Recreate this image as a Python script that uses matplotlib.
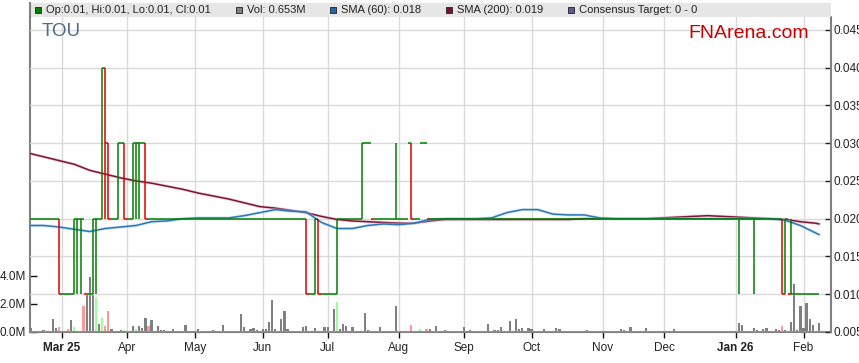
import matplotlib
matplotlib.use('Agg')
import matplotlib.pyplot as plt
from matplotlib.ticker import MultipleLocator, FormatStrFormatter
import numpy as np
import pandas as pd

plt.rcParams['font.family'] = ['Liberation Sans', 'DejaVu Sans']

W, H = 859, 363

# one slot per weekday
days = pd.bdate_range('2025-02-14', '2026-02-09')

# daily volume (millions), one value per slot
volume_m = [
    0, 0.26, 0, 0, 0, 0.14, 0.10, 0, 0.93, 0.31,
    0.36, 0, 0.10, 0.24, 0.86, 0.36, 0.10, 0.10, 1.88, 2.7,
    3.9, 2.8, 2.5, 0.57, 1.0, 0.43, 1.5, 0.21, 0, 0.10,
    0.14, 0.17, 0, 0, 0.43, 0.24, 0.43, 0.26, 1.0, 0.43,
    0.86, 0, 0.43, 0.17, 0.17, 0, 0, 0.21, 0, 0.10,
    0, 0.5, 0.10, 0, 0, 0.21, 0.10, 0, 0, 0,
    0.14, 0, 0.10, 0.5, 0, 0.10, 0.10, 0, 0, 1.29,
    0.36, 0, 0.21, 0.29, 0.14, 0, 0.21, 0.19, 0.71, 2.3,
    0.19, 0, 0.93, 1.5, 0.24, 0, 0.10, 0, 0, 0.36,
    0.43, 0.10, 0, 0.29, 0.10, 0, 0.36, 0.36, 0, 1.64,
    2.14, 0.21, 0.57, 0.43, 0, 0.36, 0, 0, 0, 1.36,
    0.14, 0, 0, 0, 0.36, 0, 0, 0.10, 0, 1.86,
    0, 0.07, 0, 0, 0.5, 0, 0.07, 0.21, 0, 0.21,
    0.21, 0.10, 0.43, 0, 0, 0.14, 0, 0, 0, 0,
    0, 0.36, 0, 0.14, 0, 0, 0, 0, 0, 0.57,
    0.10, 0.14, 0.14, 0.36, 0.10, 0, 0.79, 0, 0.93, 0.21,
    0.29, 0, 0.29, 0.21, 0, 0.10, 0.10, 0.21, 0.10, 0,
    0, 0.29, 0.21, 0.10, 0.10, 0, 0, 0, 0.10, 0,
    0, 0.14, 0, 0, 0, 0, 0, 0, 0, 0,
    0, 0, 0.21, 0.14, 0, 0.36, 0, 0, 0, 0,
    0.29, 0, 0, 0, 0, 0, 0, 0, 0, 0.21,
    0, 0, 0.07, 0, 0, 0, 0, 0.07, 0.07, 0.07,
    0, 0, 0.07, 0.07, 0, 0, 0, 0, 0, 0,
    0.64, 0.5, 0, 0, 0, 0.29, 0.14, 0.10, 0.21, 0.29,
    0.07, 0, 0.21, 0.14, 0.43, 0.14, 0, 0.71, 3.45, 0.14,
    1.86, 0.29, 2.1, 0.93, 0.5, 0.07, 0.653,
]
vol_up_days = ['2025-03-07', '2025-03-18', '2025-03-20', '2025-03-31',
               '2025-04-04', '2025-07-04', '2025-08-12']
vol_down_days = ['2025-02-28', '2025-03-05', '2025-03-12', '2025-03-21',
                 '2025-03-24', '2025-04-10', '2025-08-07', '2025-08-14',
                 '2026-01-22']

# price changes: close holds until the next row
px_dates = ['2025-02-14', '2025-02-28', '2025-03-07', '2025-03-10', '2025-03-11',
            '2025-03-12', '2025-03-17', '2025-03-18', '2025-03-20', '2025-03-21',
            '2025-03-24', '2025-03-27', '2025-03-31', '2025-04-03', '2025-04-04',
            '2025-04-07', '2025-04-09', '2025-06-20', '2025-06-25', '2025-06-26',
            '2025-07-04', '2025-07-16', '2025-07-21', '2025-07-31', '2025-08-06',
            '2025-08-07', '2025-08-12', '2025-08-14', '2026-01-02', '2026-01-09',
            '2026-01-22', '2026-01-23', '2026-01-26', '2026-01-27', '2026-02-09']
px_low = [0.02, 0.01, 0.01, 0.01, 0.01, 0.01, 0.01, 0.01, 0.02, 0.02,
          0.02, 0.02, 0.02, 0.02, 0.02, 0.02, 0.02, 0.01, 0.01, 0.01,
          0.01, 0.02, 0.02, 0.02, 0.03, 0.02, 0.03, 0.02, 0.01, 0.01,
          0.01, 0.01, 0.01, 0.01, 0.01]
px_high = [0.02, 0.02, 0.02, 0.02, 0.02, 0.01, 0.02, 0.02, 0.04, 0.04,
           0.03, 0.03, 0.03, 0.03, 0.03, 0.03, 0.03, 0.02, 0.02, 0.02,
           0.02, 0.03, 0.02, 0.03, 0.03, 0.03, 0.03, 0.02, 0.02, 0.02,
           0.02, 0.02, 0.01, 0.02, 0.01]
px_close = [0.02, 0.01, 0.02, 0.02, 0.02, 0.01, 0.02, 0.02, 0.04, 0.03,
            0.02, 0.03, 0.02, 0.03, 0.03, 0.03, 0.02, 0.01, 0.02, 0.01,
            0.02, 0.03, 0.02, 0.02, 0.03, 0.02, 0.03, 0.02, 0.02, 0.02,
            0.01, 0.02, 0.01, 0.01, 0.01]

# moving averages sampled every 5th slot, plus the last slot
sma60 = [0.0191, 0.0191, 0.0189, 0.0186, 0.0183, 0.0187, 0.0189, 0.0191, 0.0196, 0.0197,
         0.0200, 0.0201, 0.0201, 0.0201, 0.0204, 0.0208, 0.0212, 0.0210, 0.0209, 0.0195,
         0.0187, 0.0187, 0.0191, 0.0193, 0.0192, 0.0194, 0.0199, 0.0200, 0.0200, 0.0200,
         0.0201, 0.0208, 0.0212, 0.0212, 0.0206, 0.0205, 0.0205, 0.0201, 0.0200, 0.0200,
         0.0200, 0.0200, 0.0200, 0.0200, 0.0200, 0.0200, 0.0200, 0.0200, 0.0200, 0.0198,
         0.0191, 0.0181, 0.0179]
sma200 = [0.0287, 0.0282, 0.0277, 0.0272, 0.0264, 0.0259, 0.0254, 0.0250, 0.0247, 0.0243,
          0.0239, 0.0234, 0.0230, 0.0226, 0.0221, 0.0216, 0.0214, 0.0211, 0.0208, 0.0203,
          0.0199, 0.0197, 0.0196, 0.0195, 0.0194, 0.0194, 0.0197, 0.0199, 0.0199, 0.0199,
          0.0199, 0.0199, 0.0199, 0.0199, 0.0199, 0.0199, 0.0200, 0.0200, 0.0200, 0.0200,
          0.0200, 0.0201, 0.0202, 0.0203, 0.0204, 0.0203, 0.0202, 0.0201, 0.0200, 0.0199,
          0.0196, 0.0194, 0.0193]

month_labels = ['Mar 25', 'Apr', 'May', 'Jun', 'Jul', 'Aug', 'Sep', 'Oct',
                'Nov', 'Dec', 'Jan 26', 'Feb']

GREEN = '#008000'
RED = '#e00000'

fig = plt.figure(figsize=(W / 100, H / 100), dpi=100)
ax_vol = fig.add_axes([30 / W, (H - 332) / H, 801 / W, 315 / H])
ax = ax_vol.twinx()

x = np.arange(len(days))

# volume bars
vcol = np.array(['#808080'] * len(days), dtype=object)
vcol[days.get_indexer(pd.to_datetime(vol_up_days))] = '#99ff99'
vcol[days.get_indexer(pd.to_datetime(vol_down_days))] = '#ff9999'
ax_vol.bar(x, volume_m, width=0.72, color=list(vcol), linewidth=0)
ax_vol.set_ylim(0, 22.5)
ax_vol.set_yticks([0, 2, 4])
ax_vol.set_yticklabels(['0.0M', '2.0M', '4.0M'])

# month ticks at first slot of each month
first = pd.Series(x, index=days).groupby([days.year, days.month]).first().values[1:]
ax_vol.set_xticks(first)
ax_vol.set_xticklabels(month_labels)
for lab in ax_vol.get_xticklabels():
    if ' ' in lab.get_text():
        lab.set_fontweight('bold')
ax_vol.set_xlim(0.65, 259.9)
ax_vol.grid(axis='x', color='#d9d9d9', lw=1)
ax_vol.set_axisbelow(True)

# price: daily close held between changes
ev_idx = days.get_indexer(pd.to_datetime(px_dates))
daily = pd.Series(px_close, index=pd.to_datetime(px_dates)).reindex(days).ffill().values
prev = np.r_[daily[0], daily[:-1]]
hcol = [RED if c < p else GREEN for c, p in zip(daily, prev)]
ax.hlines(daily[:-1], x[:-1], x[:-1] + 1, colors=hcol[:-1], lw=1.1, zorder=3)
vmask = np.array(px_low) < np.array(px_high)
vcols = [hcol[i] for i in ev_idx[vmask]]
ax.vlines(x[ev_idx[vmask]], np.array(px_low)[vmask], np.array(px_high)[vmask],
          colors=vcols, lw=1.1, zorder=3)

# moving averages
sx = np.r_[x[::5], x[-1]]
ax.plot(sx, sma200, color='#d7a7b6', lw=2.2, alpha=0.5, zorder=2)
ax.plot(sx, sma200, color='#7d1538', lw=1.1, zorder=2)
ax.plot(sx, sma60, color='#a9cce6', lw=2.2, alpha=0.5, zorder=2)
ax.plot(sx, sma60, color='#2a78b8', lw=1.1, zorder=2)

ax.set_ylim(0.005, 0.0467)
ax.yaxis.set_major_locator(MultipleLocator(0.005))
ax.yaxis.set_major_formatter(FormatStrFormatter('%.3f'))
ax.grid(axis='y', color='#d9d9d9', lw=1, zorder=0)
ax.set_axisbelow(True)

for a in (ax, ax_vol):
    for s in a.spines.values():
        s.set_visible(False)
ax_vol.spines['left'].set_visible(True)
ax_vol.spines['bottom'].set_visible(True)
ax.spines['right'].set_visible(True)
for s in (ax_vol.spines['left'], ax_vol.spines['bottom'], ax.spines['right']):
    s.set_color('#808080')
    s.set_linewidth(1.5)

ax.tick_params(axis='y', direction='in', length=4, width=1, color='#222222',
               labelsize=8.5, labelcolor='#222222', pad=2)
ax_vol.tick_params(axis='y', direction='in', length=5, width=1, color='#111111',
                   labelsize=8.5, labelcolor='#222222', pad=3)
ax_vol.tick_params(axis='x', direction='out', length=4, width=1, color='#111111',
                   labelsize=8.5, labelcolor='#222222', pad=3)

# legend band
leg = fig.add_axes([30 / W, (H - 17) / H, 801 / W, 14 / H])
leg.set_xlim(30, 831)
leg.set_ylim(17, 3)
leg.set_facecolor('#e6e6e6')
leg.set_xticks([])
leg.set_yticks([])
for k, s in leg.spines.items():
    s.set_visible(k == 'left')
leg.spines['left'].set_color('#808080')
leg.spines['left'].set_linewidth(1.5)

last = daily[-1]
items = [
    (37.5, GREEN, f'Op:{last:.2f}, Hi:{last:.2f}, Lo:{last:.2f}, Cl:{last:.2f}'),
    (238.5, '#808080', f'Vol: {volume_m[-1]:.3f}M'),
    (332.5, '#1f6aae', f'SMA (60): {sma60[-1]:.3f}'),
    (448.5, '#7d1030', f'SMA (200): {sma200[-1]:.3f}'),
    (570.5, '#5c5c94', 'Consensus Target: 0 - 0'),
]
for px, col, txt in items:
    leg.plot(px, 10, marker='s', ms=5, mfc=col, mec='#333333', mew=0.7)
    leg.text(px + 8.5, 10, txt, fontsize=8, color='#222222', va='center', ha='left')

fig.text(42 / W, 1 - 32 / H, 'TOU', fontsize=13.5, color='#4f6a8c', va='center', ha='left')
fig.text(688 / W, 1 - 33 / H, 'FNArena.com', fontsize=14, color='#cc0000',
         va='center', ha='left')

fig.savefig('out.png', dpi=100)
